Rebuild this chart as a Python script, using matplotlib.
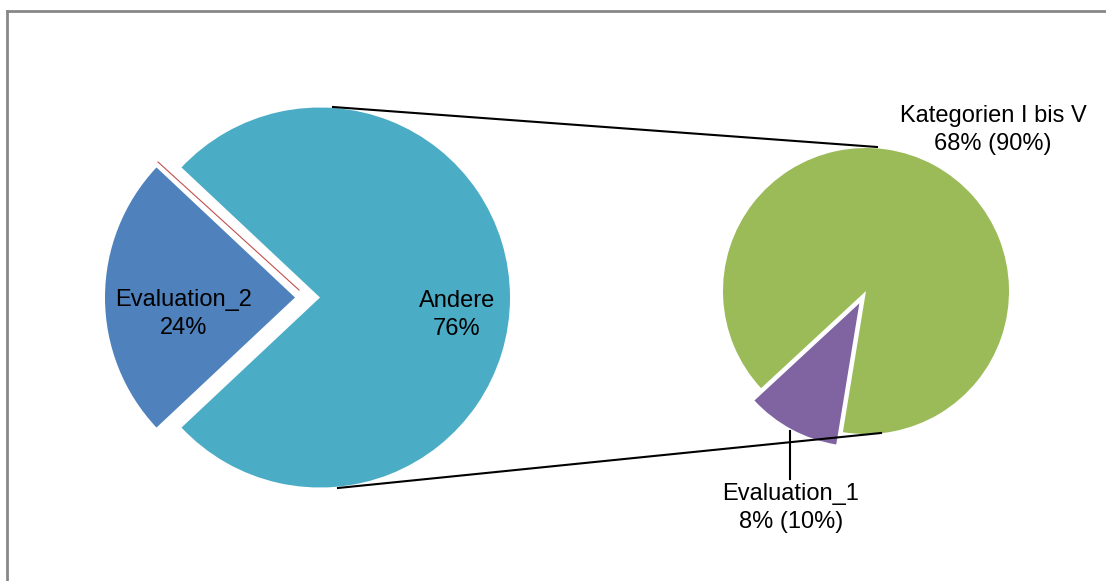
import matplotlib.pyplot as plt
from matplotlib.lines import Line2D

plt.rcParams["font.family"] = ["Liberation Sans", "DejaVu Sans"]

# main pie
main_labels = ["Evaluation_2", "Andere"]
main_values = [24, 76]
main_colors = ["#4F81BD", "#4BACC6"]

# secondary pie (breakdown of "Andere")
sub_labels = ["Evaluation_1", "Kategorien I bis V"]
sub_values = [8, 68]
sub_share = [10, 90]
sub_colors = ["#8064A2", "#9BBB59"]

W, H = 1106, 581
fig = plt.figure(figsize=(W / 100, H / 100), dpi=100)
ax = fig.add_axes([0, 0, 1, 1])

def py(y):
    # pixel row -> data y (y up)
    return H - y

c1 = (320, py(297.5))
r1 = 190
ax.pie(main_values, colors=main_colors, center=c1, radius=r1,
       startangle=180 - main_values[0] / 100 * 180,
       explode=[25, 0], frame=True)

c2 = (866, py(291))
r2 = 143
ax.pie(sub_values, colors=sub_colors, center=c2, radius=r2,
       startangle=222.8, explode=[14, 0], frame=True)

ax.set_xlim(0, W)
ax.set_ylim(0, H)
ax.set_aspect("equal")
ax.axis("off")

# connector lines
ax.plot([333, 877], [py(107), py(147)], color="black", lw=1.5)
ax.plot([338, 881], [py(488), py(433)], color="black", lw=1.5)
# leader line to Evaluation_1
ax.plot([790, 790], [py(431), py(479)], color="black", lw=1.5)
# thin red line along Evaluation_2 edge
ax.plot([158, 299], [py(162), py(290)], color="#C0504D", lw=0.8)

fs = 17
ls = 1.35
ax.text(184, py(314), f"{main_labels[0]}\n{main_values[0]}%", ha="center",
        va="center", fontsize=fs, linespacing=ls)
ax.text(457, py(315), f"{main_labels[1]}\n{main_values[1]}%", ha="center",
        va="center", fontsize=fs, linespacing=ls)
ax.text(993, py(130), f"{sub_labels[1]}\n{sub_values[1]}% ({sub_share[1]}%)",
        ha="center", va="center", fontsize=fs, linespacing=ls)
ax.text(791, py(508), f"{sub_labels[0]}\n{sub_values[0]}% ({sub_share[0]}%)",
        ha="center", va="center", fontsize=fs, linespacing=ls)

# chart border (only top and left visible)
fig.add_artist(Line2D([6.5 / W, 1], [1 - 10.5 / H, 1 - 10.5 / H],
                      transform=fig.transFigure, color="#888888", lw=2))
fig.add_artist(Line2D([6.5 / W, 6.5 / W], [0, 1 - 10.5 / H],
                      transform=fig.transFigure, color="#888888", lw=2))

fig.savefig("out.png", dpi=100)
